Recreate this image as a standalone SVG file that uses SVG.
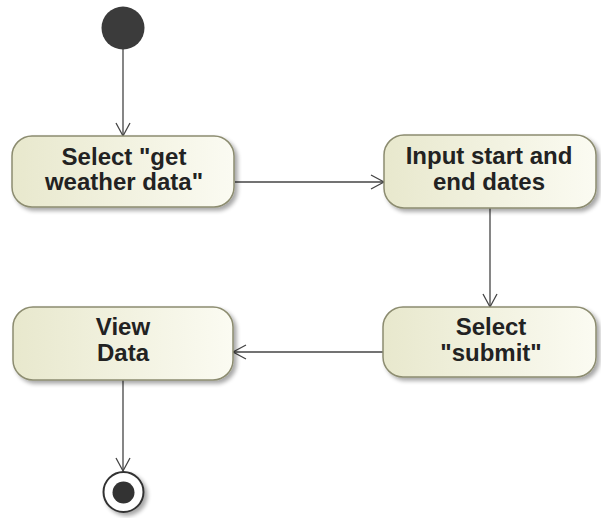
<svg xmlns="http://www.w3.org/2000/svg" width="601" height="518" viewBox="0 0 601 518">
  <defs>
    <linearGradient id="actFill" x1="0" y1="0" x2="1" y2="0">
      <stop offset="0" stop-color="#e8e8cd"/>
      <stop offset="1" stop-color="#fbfbf2"/>
    </linearGradient>
    <filter id="shadow" x="-10%" y="-10%" width="130%" height="140%">
      <feGaussianBlur in="SourceAlpha" stdDeviation="2"/>
      <feOffset dx="3" dy="3" result="b"/>
      <feComponentTransfer><feFuncA type="linear" slope="0.35"/></feComponentTransfer>
      <feMerge><feMergeNode/><feMergeNode in="SourceGraphic"/></feMerge>
    </filter>
    <marker id="open" markerWidth="16" markerHeight="16" refX="14" refY="8" orient="auto" markerUnits="userSpaceOnUse">
      <path d="M1,1 L14,8 L1,15" fill="none" stroke="#444" stroke-width="1.3"/>
    </marker>
  </defs>
  <style>
    .act { fill: url(#actFill); stroke: #8c8c70; stroke-width: 1.5; filter: url(#shadow); }
    .lbl { font-family: "Liberation Sans", Arial, sans-serif; font-weight: bold; font-size: 24px; fill: #222222; text-anchor: middle; }
    .edge { stroke: #444; stroke-width: 1.3; fill: none; marker-end: url(#open); }
  </style>
  <rect width="601" height="518" fill="#ffffff"/>

  <g id="connectors">
    <line class="edge" x1="123" y1="49" x2="123" y2="136"/>
    <line class="edge" x1="235" y1="182" x2="384" y2="182"/>
    <line class="edge" x1="490" y1="208" x2="490" y2="307"/>
    <line class="edge" x1="383" y1="352" x2="233" y2="352"/>
    <line class="edge" x1="123" y1="380" x2="123" y2="471"/>
  </g>

  <g id="start">
    <circle cx="123" cy="28" r="21.5" fill="#3b3b3b"/>
  </g>

  <g id="selectGetWeather">
    <rect class="act" x="12" y="136" width="222" height="71" rx="20"/>
    <text class="lbl" x="124" y="165">Select "get</text>
    <text class="lbl" x="124" y="190">weather data"</text>
  </g>

  <g id="inputDates">
    <rect class="act" x="384" y="135" width="212" height="73" rx="20"/>
    <text class="lbl" x="489" y="164">Input start and</text>
    <text class="lbl" x="489" y="190">end dates</text>
  </g>

  <g id="selectSubmit">
    <rect class="act" x="383" y="307" width="213" height="70" rx="20"/>
    <text class="lbl" x="491" y="335">Select</text>
    <text class="lbl" x="491" y="361">"submit"</text>
  </g>

  <g id="viewData">
    <rect class="act" x="13" y="307" width="220" height="73" rx="20"/>
    <text class="lbl" x="123" y="335">View</text>
    <text class="lbl" x="123" y="361">Data</text>
  </g>

  <g id="end">
    <circle cx="123.5" cy="492" r="20" fill="#ffffff" stroke="#333" stroke-width="2" filter="url(#shadow)"/>
    <circle cx="123.5" cy="492.5" r="11" fill="#333"/>
  </g>
</svg>
